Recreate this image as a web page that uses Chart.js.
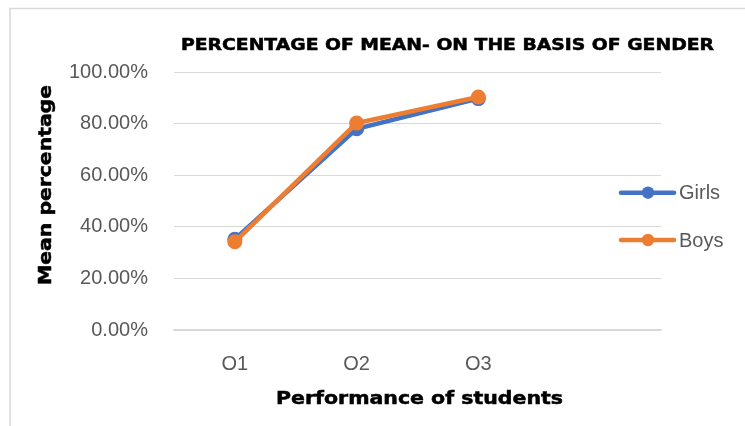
<!DOCTYPE html>
<html><head><meta charset="utf-8">
<script src="https://cdn.jsdelivr.net/npm/chart.js@4/dist/chart.umd.min.js"></script>
<style>html,body{margin:0;padding:0;background:#fff}#wrap{width:745px;height:426px;position:relative}canvas{display:block}</style>
</head><body><div id="wrap"><canvas id="c" width="745" height="426"></canvas></div>
<script>
const categories = ['O1', 'O2', 'O3', ''];
const girls = [35.2, 78.0, 89.7, null];
const boys = [34.2, 80.2, 90.3, null];
const seriesNames = ['Girls', 'Boys'];
const yTickStep = 20;
const chartTitle = 'PERCENTAGE OF MEAN- ON THE BASIS OF GENDER';
const xTitle = 'Performance of students';
const yTitle = 'Mean percentage';

const BLUE = '#4472C4', ORANGE = '#ED7D31', GREY = '#595959';

function drawScaledText(ctx, text, font, cx, baseY, targetW, rotate) {
  ctx.save();
  ctx.font = font;
  const w = ctx.measureText(text).width;
  const sx = targetW / w;
  ctx.translate(cx, baseY);
  if (rotate) ctx.rotate(-Math.PI / 2);
  ctx.scale(sx, 1);
  ctx.textAlign = 'center';
  ctx.textBaseline = 'alphabetic';
  ctx.fillStyle = '#000';
  ctx.strokeStyle = '#000';
  ctx.lineWidth = 0.5;
  ctx.fillText(text, 0, 0);
  ctx.strokeText(text, 0, 0);
  ctx.restore();
}

const decor = {
  id: 'decor',
  beforeDraw(chart) {
    const ctx = chart.ctx;
    ctx.save();
    ctx.fillStyle = '#fff';
    ctx.fillRect(0, 0, chart.width, chart.height);
    ctx.strokeStyle = '#d9d9d9';
    ctx.lineWidth = 1.5;
    ctx.beginPath();
    ctx.moveTo(10, 426);
    ctx.lineTo(10, 8.5);
    ctx.lineTo(745, 8.5);
    ctx.stroke();
    ctx.restore();
  },
  afterDraw(chart) {
    const ctx = chart.ctx;
    drawScaledText(ctx, chartTitle, 'bold 15px "DejaVu Sans"', 447.5, 50, 533, false);
    drawScaledText(ctx, xTitle, 'bold 17px "DejaVu Sans"', 419.5, 404, 287, false);
    drawScaledText(ctx, yTitle, 'bold 18.5px "DejaVu Sans"', 51, 185, 200, true);
    const ys = [192.7, 240];
    chart.data.datasets.forEach((ds, i) => {
      const y = ys[i];
      ctx.save();
      ctx.strokeStyle = ds.borderColor;
      ctx.lineWidth = 4.5;
      ctx.lineCap = 'round';
      ctx.beginPath();
      ctx.moveTo(621, y);
      ctx.lineTo(674, y);
      ctx.stroke();
      ctx.fillStyle = ds.borderColor;
      ctx.beginPath();
      ctx.arc(648, y, 6.2, 0, Math.PI * 2);
      ctx.fill();
      ctx.fillStyle = GREY;
      ctx.font = '20px "Liberation Sans"';
      ctx.textAlign = 'left';
      ctx.textBaseline = 'middle';
      ctx.fillText(ds.label, 679, y + 1);
      ctx.restore();
    });
  }
};

new Chart(document.getElementById('c'), {
  type: 'line',
  data: {
    labels: categories,
    datasets: [
      { label: seriesNames[0], data: girls, borderColor: BLUE, backgroundColor: BLUE, order: 1 },
      { label: seriesNames[1], data: boys, borderColor: ORANGE, backgroundColor: ORANGE, order: 0 }
    ]
  },
  options: {
    responsive: false,
    devicePixelRatio: 1,
    animation: false,
    layout: { padding: { left: 43, right: 84, top: 72, bottom: 28 } },
    elements: {
      line: { borderWidth: 4.5, tension: 0 },
      point: { radius: 7.5, borderWidth: 0, hoverRadius: 7.5 }
    },
    plugins: { legend: { display: false }, title: { display: false }, tooltip: { enabled: false } },
    scales: {
      x: {
        offset: true,
        grid: { display: false, drawTicks: false },
        border: { display: true, color: '#d9d9d9', width: 1.5 },
        ticks: { color: GREY, font: { family: 'Liberation Sans', size: 20 }, padding: 22, maxRotation: 0 }
      },
      y: {
        min: 0, max: 100,
        grid: { color: '#d9d9d9', lineWidth: 1, drawTicks: false },
        border: { display: false },
        ticks: { stepSize: yTickStep, color: GREY, font: { family: 'Liberation Sans', size: 20 }, padding: 26,
          callback: v => v.toFixed(2) + '%' }
      }
    }
  },
  plugins: [decor]
});
</script></body></html>
